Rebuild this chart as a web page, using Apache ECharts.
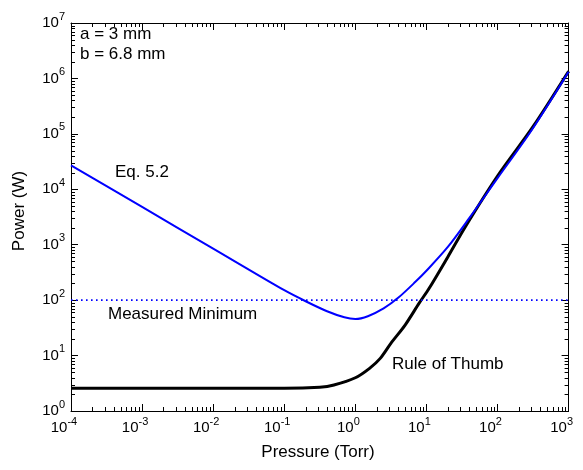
<!DOCTYPE html>
<html><head><meta charset="utf-8">
<script src="https://cdn.jsdelivr.net/npm/echarts@6/dist/echarts.min.js"></script>
<style>html,body{margin:0;padding:0;background:#fff}#c{width:583px;height:470px}</style>
</head><body><div id="c"></div>
<script>
// ---- data ----
const eqPressure = [1e-4, 1e-3, 1e-2, 1e-1, 0.2, 0.4, 0.7, 1, 1.5, 2.5, 4, 7, 10, 20, 40, 100, 300, 1000];
const eqPower    = [27000, 4800, 851, 151, 95.5, 63, 49, 45.7, 51.3, 70.8, 110, 214, 339, 912, 3020, 15850, 114800, 1318000];
const rulePressure = [1e-4, 0.1, 0.316, 0.5, 1, 1.585, 2.24, 3.16, 5.01, 7.94, 10.87, 20, 35.5, 100, 316, 1000];
const rulePower    = [2.57, 2.57, 2.69, 2.95, 3.98, 5.89, 8.91, 16.6, 35.5, 89.1, 162, 603, 2138, 17380, 134900, 1349000];
const measuredMinimum = 100;
const xRange = [1e-4, 1e3];
const yRange = [1, 1e7];
const xTitle = 'Pressure (Torr)';
const yTitle = 'Power (W)';
const notes = ['a = 3 mm', 'b = 6.8 mm'];
const seriesLabels = ['Eq. 5.2', 'Measured Minimum', 'Rule of Thumb'];

(function () {
const FONT = '"Liberation Sans", Arial, Helvetica, sans-serif';
const TXT = '17px ' + FONT;
const exp10 = v => Math.round(Math.log10(v));

function minorValues(lo, hi) {
  const out = [];
  for (let e = Math.round(Math.log10(lo)); e < Math.round(Math.log10(hi)); e++)
    for (let k = 2; k <= 9; k++) out.push(k * Math.pow(10, e));
  return out;
}
const xMinor = minorValues(xRange[0], xRange[1]);
const yMinor = minorValues(yRange[0], yRange[1]);

const chart = echarts.init(document.getElementById('c'));

function rich(withPad) {
  const r = {
    b: {fontSize: 15, fontFamily: FONT, color: '#000'},
    s: {fontSize: 11, fontFamily: FONT, color: '#000', padding: [0, 0, 13, 0]}
  };
  if (withPad) r.p = {width: 14};
  return r;
}
const mkLine = () => ({show: true, lineStyle: {color: '#000', width: 1}});
const mkTick = () => ({show: true, inside: true, length: 7, lineStyle: {color: '#000', width: 1}});

function tickSeries(vals, isX) {
  return {
    type: 'custom', z: 10,
    data: vals.map(v => isX ? [v, yRange[0]] : [xRange[0], v]),
    renderItem: (params, api) => {
      const cs = params.coordSys;
      const p = api.coord([api.value(0), api.value(1)]);
      const L = 4;
      const mk = (x1, y1, x2, y2) => ({type: 'line', shape: {x1, y1, x2, y2}, style: {stroke: '#000', lineWidth: 1}});
      if (isX) {
        const x = Math.round(p[0]) + 0.5;
        const yb = cs.y + cs.height;
        return {type: 'group', children: [mk(x, yb, x, yb - L), mk(x, cs.y, x, cs.y + L)]};
      }
      const y = Math.round(p[1]) + 0.5;
      const xr = cs.x + cs.width;
      return {type: 'group', children: [mk(cs.x, y, cs.x + L, y), mk(xr, y, xr - L, y)]};
    }
  };
}

chart.setOption({
  animation: false,
  grid: {left: 71, right: 13, top: 23, bottom: 59},
  xAxis: [
    {type: 'log', min: xRange[0], max: xRange[1], position: 'bottom',
     axisLine: mkLine(), splitLine: {show: false}, axisTick: mkTick(),
     axisLabel: {margin: 5, formatter: v => '{b|10}{s|' + exp10(v) + '}{p|}', rich: rich(true)}},
    {type: 'log', min: xRange[0], max: xRange[1], position: 'top',
     axisLine: mkLine(), splitLine: {show: false}, axisTick: mkTick(), axisLabel: {show: false}}
  ],
  yAxis: [
    {type: 'log', min: yRange[0], max: yRange[1], position: 'left',
     axisLine: mkLine(), splitLine: {show: false}, axisTick: mkTick(),
     axisLabel: {margin: 6, formatter: v => '{b|10}{s|' + exp10(v) + '}', rich: rich(false)}},
    {type: 'log', min: yRange[0], max: yRange[1], position: 'right',
     axisLine: mkLine(), splitLine: {show: false}, axisTick: mkTick(), axisLabel: {show: false}}
  ],
  series: [
    {name: seriesLabels[2], type: 'line', showSymbol: false, smooth: 0.3, z: 2,
     data: rulePressure.map((p, i) => [p, rulePower[i]]),
     lineStyle: {color: '#000', width: 3}},
    {name: seriesLabels[0], type: 'line', showSymbol: false, smooth: 0.3, z: 3,
     data: eqPressure.map((p, i) => [p, eqPower[i]]),
     lineStyle: {color: '#0000ff', width: 2}},
    {name: seriesLabels[1], type: 'line', showSymbol: false, z: 4,
     data: [[xRange[0], measuredMinimum], [xRange[1], measuredMinimum]],
     lineStyle: {color: '#0000ff', width: 1.6, type: [1.6, 3.4]}},
    tickSeries(xMinor, true),
    tickSeries(yMinor, false)
  ],
  graphic: [
    {type: 'text', left: 80, top: 26, style: {text: notes[0], font: TXT, fill: '#000'}},
    {type: 'text', left: 80, top: 46, style: {text: notes[1], font: TXT, fill: '#000'}},
    {type: 'text', left: 115, top: 164, style: {text: seriesLabels[0], font: TXT, fill: '#000'}},
    {type: 'text', left: 108, top: 306, style: {text: seriesLabels[1], font: TXT, fill: '#000'}},
    {type: 'text', left: 392, top: 356, style: {text: seriesLabels[2], font: TXT, fill: '#000'}},
    {type: 'text', x: 318, y: 452, style: {text: xTitle, font: TXT, fill: '#000', align: 'center', verticalAlign: 'middle'}},
    {type: 'text', x: 19, y: 211, rotation: Math.PI / 2, style: {text: yTitle, font: TXT, fill: '#000', align: 'center', verticalAlign: 'middle'}}
  ]
});
})();
</script>
</body></html>
